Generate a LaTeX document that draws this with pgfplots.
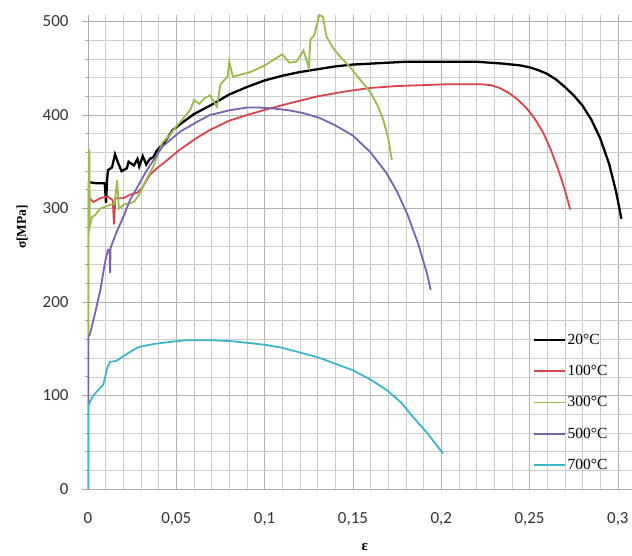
\documentclass[border=0pt]{standalone}
\usepackage{pgfplots}
\pgfplotsset{compat=1.18}
\usepackage{fontspec}
\setmainfont{Liberation Serif}
\newfontfamily\tickfont{Carlito}
\definecolor{c20}{HTML}{000000}
\definecolor{c100}{HTML}{D9434C}
\definecolor{c300}{HTML}{9BBB4F}
\definecolor{c500}{HTML}{7A62AE}
\definecolor{c700}{HTML}{3DB6CA}
\begin{document}
\begin{tikzpicture}
\begin{axis}[
  scale only axis,
  width=544bp, height=474bp,
  xmin=0, xmax=0.308, ymin=0, ymax=507,
  xtick={0,0.05,0.1,0.15,0.2,0.25,0.3},
  xticklabels={0,{0,05},{0,1},{0,15},{0,2},{0,25},{0,3}},
  ytick={0,100,200,300,400,500},
  yticklabels={0,100,200,300,400,500},
  minor x tick num=4, minor y tick num=4,
  grid=both,
  major grid style={draw=gray!60, line width=0.7bp},
  minor grid style={draw=gray!40, line width=0.6bp},
  axis x line=bottom, axis y line=left,
  axis line style={-, draw=gray!65, line width=0.7bp},
  xtick style={draw=none},
  minor tick style={draw=none},
  ytick style={draw=gray!65, line width=0.7bp},
  major tick length=6bp,
  tick align=outside,
  ticklabel style={font=\tickfont\fontsize{17}{17}\selectfont, text=black!80},
  xticklabel style={anchor=north, yshift=-14bp},
  yticklabel style={anchor=east, xshift=-10bp},
  xlabel={\textbf{ε}},
  ylabel={\textbf{σ[MPa]}},
  every axis x label/.style={at={(axis description cs:0.509,-0.107)}, anchor=north, font=\fontsize{15}{15}\selectfont},
  every axis y label/.style={at={(axis description cs:-0.121,0.553)}, rotate=90, anchor=center, font=\fontsize{13.5}{13.5}\selectfont},
  legend style={at={(axis cs:0.2515,168)}, anchor=north west, draw=none, fill=none,
    font=\fontsize{15.5}{15.5}\selectfont, row sep=15.5bp, inner xsep=0pt, inner ysep=0pt,
    /tikz/every even column/.append style={column sep=0pt}},
  legend cell align=left,
  legend image code/.code={\draw[#1] (0bp,0bp) -- (31bp,0bp);},
  every legend entry/.append style={inner xsep=1bp},
]
\addplot[c20, line width=2.3bp] coordinates {
(0,0) (0,327) (0.001,328) (0.005,327) (0.0095,327) (0.0102,306) (0.0108,330) (0.0113,341)
(0.0136,344) (0.0153,358) (0.017,349) (0.019,340) (0.022,343) (0.023,350) (0.026,346)
(0.028,353) (0.029,345) (0.031,356) (0.033,347) (0.035,353) (0.037,355) (0.039,362)
(0.043,370) (0.048,384) (0.052,390) (0.06,401) (0.07,411) (0.08,422) (0.09,430) (0.10,437)
(0.11,442) (0.12,446) (0.13,449) (0.14,452) (0.15,454) (0.16,455) (0.17,456) (0.18,457)
(0.20,457) (0.22,457) (0.235,455) (0.245,453) (0.25,451) (0.255,448) (0.26,444)
(0.265,438) (0.27,430) (0.275,421) (0.28,410) (0.285,395) (0.29,375) (0.295,348)
(0.299,318) (0.302,289)
};
\addlegendentry{20°C}
\addplot[c100, line width=1.8bp] coordinates {
(0,0) (0,308) (0.001,311) (0.003,307) (0.007,311) (0.011,313) (0.014,309) (0.0147,283)
(0.0155,311) (0.020,311) (0.024,315) (0.028,317) (0.031,323) (0.035,336) (0.039,343)
(0.045,352) (0.052,363) (0.062,376) (0.069,384) (0.08,394) (0.09,400) (0.101,406)
(0.115,413) (0.13,420) (0.145,425) (0.16,429) (0.175,431) (0.19,432) (0.205,433)
(0.222,433) (0.228,432) (0.233,429) (0.238,424) (0.243,417) (0.248,408) (0.253,396)
(0.258,380) (0.262,363) (0.266,343) (0.270,320) (0.273,299)
};
\addlegendentry{100°C}
\addplot[c300, line width=1.8bp] coordinates {
(0,0) (0,362) (0.0008,362) (0.001,280) (0.0023,291) (0.004,293) (0.007,300) (0.0125,304)
(0.015,305) (0.0165,330) (0.0175,300) (0.020,304) (0.026,307) (0.029,315) (0.033,331)
(0.037,345) (0.042,370) (0.046,378) (0.050,388) (0.052,392) (0.058,406) (0.060,416)
(0.063,412) (0.066,418) (0.069,421) (0.073,409) (0.075,433) (0.079,441) (0.080,457)
(0.082,441) (0.092,446) (0.100,453) (0.110,465) (0.114,456) (0.118,457) (0.122,469)
(0.125,451) (0.126,481) (0.128,485) (0.131,507) (0.133,505) (0.135,484) (0.139,471)
(0.143,462) (0.148,452) (0.154,438) (0.160,424) (0.164,410) (0.167,396) (0.170,375)
(0.172,352)
};
\addlegendentry{300°C}
\addplot[c500, line width=1.8bp] coordinates {
(0,0) (0,163) (0.001,165) (0.004,188) (0.007,213) (0.0096,242) (0.0113,256) (0.0122,256)
(0.0125,231) (0.0128,258) (0.016,274) (0.020,291) (0.024,310) (0.028,323) (0.033,340)
(0.042,366) (0.052,382) (0.062,393) (0.069,400) (0.08,405) (0.09,408) (0.097,408)
(0.105,407) (0.114,405) (0.122,402) (0.131,397) (0.14,389) (0.150,378) (0.160,360)
(0.169,338) (0.175,318) (0.181,293) (0.187,262) (0.192,230) (0.194,213)
};
\addlegendentry{500°C}
\addplot[c700, line width=1.8bp] coordinates {
(0,0) (0.0002,88) (0.001,93) (0.003,100) (0.0068,108) (0.0085,111) (0.0096,119)
(0.0108,129) (0.0125,136) (0.016,137) (0.020,142) (0.025,148) (0.029,152) (0.037,155)
(0.045,157) (0.055,159) (0.063,159) (0.072,159) (0.082,158) (0.092,156) (0.101,154)
(0.11,151) (0.12,146) (0.130,141) (0.14,134) (0.150,127) (0.160,117) (0.169,106)
(0.177,93) (0.184,77) (0.192,60) (0.201,38)
};
\addlegendentry{700°C}
\end{axis}
\pgfresetboundingbox
\path (current axis.south west) ++(-88bp,-67bp) rectangle ([yshift=15bp]current axis.north east);
\end{tikzpicture}
\end{document}
